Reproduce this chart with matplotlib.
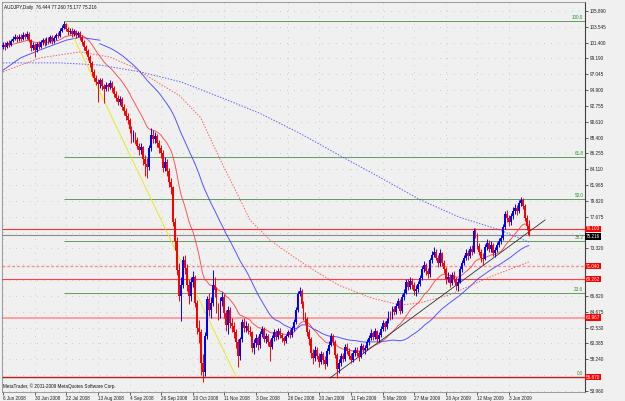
import numpy as np
import pandas as pd
import matplotlib
matplotlib.use("Agg")
import matplotlib.pyplot as plt
import matplotlib.transforms as mtransforms

plt.rcParams['font.family'] = ['Liberation Sans', 'DejaVu Sans']

header = "AUDJPY,Daily  76.444 77.260 75.177 75.216"
footer = "MetaTrader, \u00a9 2001-2009 MetaQuotes Software Corp."

# daily bars, 6 Jun 2008 .. 17 Jun 2009 (open = previous close)
first_open = 101.0
close = [
    101.2,
    101.0, 101.5, 101.3, 101.8, 102.1,
    102.3, 102.0, 102.4, 102.1, 102.6,
    102.4, 102.8, 101.9, 100.8, 101.2,
    100.6, 101.4, 101.0, 101.6, 101.9,
    101.5, 102.0, 101.7, 102.3, 101.8,
    102.2, 102.6, 102.5, 103.2, 103.6,
    104.1, 103.4, 103.0, 103.2, 102.8,
    103.1, 102.6, 102.9, 102.3, 101.6,
    101.0, 100.4, 99.6, 98.8, 97.5,
    96.8, 96.2, 95.9, 96.4, 95.6,
    95.2, 95.8, 95.5, 96.0, 95.3,
    94.6, 94.0, 93.5, 93.9, 92.8,
    92.2, 91.5, 91.0, 89.8, 88.5,
    89.0, 88.2, 87.5, 86.9, 87.3,
    85.6, 85.0, 84.6, 87.2, 89.0,
    88.4, 88.8, 87.8, 87.1, 86.5,
    84.5, 85.2, 84.0, 82.5, 81.8,
    77.0, 74.5, 70.5, 67.0, 68.5,
    71.8, 70.8, 68.5, 67.0, 68.8,
    69.5, 66.0, 62.5, 62.0, 57.8,
    56.5, 61.5, 66.5, 65.0, 66.0,
    68.5, 67.8, 65.2, 64.5, 66.2,
    66.8, 64.6, 63.0, 65.0, 63.2,
    62.8, 62.0, 60.6, 58.8, 61.0,
    63.4, 62.6, 62.9, 62.2, 62.0,
    59.8, 60.5, 61.2, 60.3, 61.8,
    62.4, 61.0, 61.5, 60.6, 60.0,
    61.2, 62.0, 61.3, 62.2, 61.6,
    61.2, 60.8, 61.5, 62.0, 61.6,
    62.5, 63.4, 65.0, 67.2, 67.6,
    65.8, 64.2, 63.8, 62.0, 61.0,
    59.2, 58.4, 59.6, 58.8, 57.9,
    59.0, 58.2, 57.6, 59.4, 60.3,
    61.5, 60.6, 58.9, 57.0, 57.8,
    58.7, 58.3, 60.0, 59.4, 58.8,
    58.2, 59.1, 59.6, 59.2, 58.6,
    60.1, 59.5, 59.9, 60.6, 61.2,
    61.9, 61.3, 62.1, 61.0, 61.6,
    62.4, 63.2, 62.7, 63.5, 64.5,
    64.0, 65.2, 64.8, 65.6, 66.2,
    64.9, 66.8, 67.4, 68.8, 68.2,
    69.0, 68.4, 67.6, 67.9, 68.6,
    69.4, 70.6, 71.2, 70.3, 69.9,
    71.8, 72.6, 72.9, 72.2, 71.4,
    72.8, 71.5, 70.6, 69.2, 69.6,
    68.7, 69.8, 69.3, 68.3, 68.9,
    70.6, 71.5, 72.2, 72.8, 72.4,
    73.4, 73.0, 75.8, 75.2, 73.8,
    73.0, 72.1, 72.0, 73.6, 74.2,
    73.4, 73.9, 72.8, 73.2, 73.9,
    74.4, 74.8, 76.4, 78.2, 77.6,
    77.0, 77.9, 78.5, 79.0, 78.6,
    79.6, 80.1, 79.2, 77.6, 76.444,
    75.216,
]
high = [
    101.6,
    101.6, 101.8, 101.9, 102.1, 102.5,
    102.7, 102.6, 102.8, 102.7, 103.0,
    102.9, 103.1, 103.0, 102.1, 101.6,
    101.5, 101.7, 101.8, 101.9, 102.2,
    102.2, 102.3, 102.4, 102.6, 102.6,
    102.5, 102.9, 103.0, 103.5, 104.0,
    104.5, 104.3, 103.7, 103.6, 103.5,
    103.4, 103.3, 103.2, 103.1, 102.6,
    101.9, 101.3, 100.7, 99.9, 99.0,
    97.9, 97.2, 96.6, 96.8, 96.7,
    95.9, 96.2, 96.1, 96.4, 96.3,
    95.6, 95.0, 94.4, 94.3, 94.2,
    93.2, 92.6, 91.9, 91.3, 90.2,
    89.6, 89.4, 88.7, 87.9, 87.8,
    87.5, 86.2, 85.8, 87.6, 89.9,
    89.6, 89.4, 89.1, 88.3, 87.6,
    86.9, 85.9, 85.6, 84.4, 83.0,
    82.0, 77.6, 75.0, 71.4, 69.6,
    72.4, 72.6, 71.3, 69.2, 69.5,
    70.4, 69.8, 66.4, 63.6, 62.4,
    59.0, 62.0, 67.0, 67.4, 66.8,
    70.5, 69.6, 68.2, 66.0, 66.8,
    67.5, 67.2, 65.0, 65.6, 65.5,
    64.0, 63.4, 62.4, 61.0, 61.4,
    63.8, 63.9, 63.5, 63.2, 62.8,
    62.2, 61.0, 61.7, 61.5, 62.2,
    62.9, 62.7, 61.9, 61.8, 61.0,
    61.6, 62.4, 62.3, 62.6, 62.5,
    61.9, 61.5, 61.8, 62.3, 62.4,
    62.9, 63.8, 65.4, 67.6, 68.2,
    67.9, 66.2, 64.8, 64.1, 62.4,
    61.3, 59.7, 60.1, 60.0, 59.2,
    59.4, 59.3, 58.7, 59.8, 60.8,
    61.9, 61.8, 60.9, 59.2, 58.3,
    59.1, 59.2, 60.4, 60.5, 59.8,
    59.2, 59.5, 60.0, 60.0, 59.5,
    60.5, 60.4, 60.3, 61.0, 61.6,
    62.4, 62.2, 62.5, 62.3, 62.0,
    62.8, 63.6, 63.5, 63.9, 64.9,
    64.9, 65.6, 65.6, 66.0, 66.7,
    66.5, 67.2, 67.9, 69.2, 69.3,
    69.5, 69.4, 68.8, 68.4, 69.0,
    69.8, 71.0, 71.7, 71.5, 70.8,
    72.2, 73.1, 73.6, 73.4, 72.6,
    73.3, 73.0, 71.8, 70.9, 70.2,
    70.0, 70.2, 70.3, 69.5, 69.4,
    71.0, 71.9, 72.6, 73.3, 73.2,
    73.8, 73.9, 76.2, 76.3, 75.5,
    74.2, 73.4, 72.8, 74.0, 74.7,
    74.6, 74.4, 74.2, 73.6, 74.3,
    74.9, 75.3, 76.8, 78.6, 78.7,
    78.0, 78.3, 79.1, 79.5, 79.4,
    80.0, 80.5, 80.3, 79.5, 78.0,
    77.26,
]
low = [
    100.7,
    100.6, 100.8, 101.0, 101.1, 101.6,
    101.9, 101.7, 101.8, 101.8, 101.9,
    102.0, 102.1, 101.6, 100.4, 100.5,
    99.6, 100.3, 100.7, 100.8, 101.3,
    101.1, 101.2, 101.4, 101.5, 101.4,
    101.5, 101.9, 102.2, 102.3, 103.0,
    103.4, 103.1, 102.6, 102.7, 102.4,
    102.5, 102.2, 102.3, 101.9, 101.2,
    100.6, 100.0, 99.2, 98.3, 97.0,
    96.3, 95.8, 93.5, 95.4, 95.1,
    93.3, 94.9, 95.0, 95.2, 94.8,
    94.1, 93.6, 93.0, 93.1, 92.4,
    91.7, 91.0, 90.4, 89.2, 87.9,
    88.0, 87.7, 87.0, 86.2, 86.4,
    84.8, 83.4, 83.0, 84.2, 86.8,
    87.9, 87.8, 87.3, 86.5, 85.8,
    83.9, 84.0, 83.4, 81.9, 80.9,
    76.5, 73.2, 69.8, 66.2, 63.5,
    68.0, 69.9, 67.6, 65.8, 66.3,
    68.2, 65.4, 61.8, 60.5, 56.2,
    55.2, 56.0, 61.0, 64.2, 64.0,
    65.6, 66.8, 64.6, 63.6, 64.0,
    65.6, 64.0, 62.1, 61.8, 62.6,
    62.0, 61.2, 59.8, 57.2, 58.2,
    60.6, 62.0, 62.0, 61.7, 61.5,
    59.3, 59.0, 60.0, 59.6, 59.9,
    61.4, 60.6, 60.5, 60.1, 58.0,
    59.7, 60.8, 60.9, 61.0, 61.2,
    60.7, 60.3, 60.5, 61.3, 61.2,
    61.4, 62.2, 63.1, 64.8, 66.9,
    65.3, 63.7, 63.1, 61.5, 60.3,
    58.5, 57.6, 58.0, 58.3, 57.3,
    57.6, 57.7, 56.9, 57.4, 59.0,
    60.1, 60.2, 58.5, 55.8, 56.4,
    57.4, 57.9, 58.0, 59.0, 58.3,
    57.8, 57.9, 58.8, 58.8, 58.1,
    58.4, 59.1, 59.0, 59.6, 60.3,
    60.9, 60.9, 61.0, 60.6, 60.7,
    61.3, 62.1, 62.2, 62.4, 63.2,
    63.6, 63.8, 64.3, 64.5, 65.3,
    64.5, 64.6, 66.4, 67.2, 67.8,
    67.9, 67.9, 67.1, 66.9, 67.5,
    68.3, 69.1, 70.2, 69.8, 69.4,
    69.6, 71.5, 72.3, 71.8, 70.9,
    71.1, 71.0, 70.1, 68.6, 68.8,
    68.2, 68.4, 68.9, 67.8, 67.6,
    68.7, 70.2, 71.2, 71.9, 71.9,
    72.1, 72.6, 72.8, 74.8, 73.4,
    72.6, 71.6, 71.2, 71.8, 73.2,
    73.0, 73.0, 72.4, 72.3, 72.9,
    73.6, 74.0, 74.6, 76.1, 77.1,
    76.5, 76.7, 77.5, 78.1, 78.0,
    78.3, 79.2, 78.8, 77.2, 76.0,
    75.177,
]

# start of the 50-bar SMA (needs bars before the visible window)
sma50_head_idx = [0, 9, 19, 32, 39, 49]
sma50_head_val = [97.8, 99.5, 100.6, 101.9, 102.3, 101.9]
# slow averages
red_dot_idx = [0, 19, 39, 54, 66, 79, 89, 100, 110, 120, 125, 135, 147, 157, 170, 186, 201, 211, 226, 245, 266]
red_dot_val = [97.6, 99.5, 100.3, 99.6, 98.2, 96.0, 94.4, 91.3, 85.5, 80.1, 77.3, 74.6, 72.3, 70.5, 68.4, 66.7, 65.7, 66.0, 67.1, 69.4, 71.6]
blue_dot_idx = [0, 29, 49, 69, 90, 110, 130, 150, 170, 191, 211, 231, 251, 266]
blue_dot_val = [98.8, 98.8, 98.5, 97.6, 96.2, 94.1, 91.9, 89.2, 86.2, 83.1, 80.1, 77.7, 76.0, 74.3]

# fibonacci retracement between the July high and the October low
fib_hi, fib_lo, fib_start = 104.52, 55.87, 31
fib_levels = [0.0, 23.6, 38.2, 50.0, 61.8, 100.0]

# horizontal levels with their price tags
level_price = [76.103, 71.040, 69.262, 63.967, 55.870]
level_color = ['#ff3030', '#ff8c8c', '#ff4040', '#ff9c9c', '#b02020']
level_style = ['-', (0, (2, 1.5)), '-', '-', '-']
level_width = [0.8, 1.0, 0.8, 1.4, 1.0]
bid = 75.216

# trend lines (bar index, price)
up_line = [(165.4, 55.74), (274.2, 77.33)]
down_line = [(32.0, 104.4), (118.0, 55.87)]

ytick_labels = ["53.960", "56.105", "58.240", "60.385", "62.530", "64.675", "66.820",
                "68.965", "71.110", "73.320", "75.530", "77.675", "79.820", "81.965",
                "84.110", "86.255", "88.400", "90.610", "92.755", "94.900", "97.045",
                "99.190", "101.400", "103.545", "105.890"]
date_labels = ["6 Jun 2008", "30 Jun 2008", "22 Jul 2008", "13 Aug 2008", "4 Sep 2008",
               "26 Sep 2008", "20 Oct 2008", "11 Nov 2008", "3 Dec 2008", "26 Dec 2008",
               "20 Jan 2009", "11 Feb 2009", "5 Mar 2009", "27 Mar 2009", "20 Apr 2009",
               "12 May 2009", "3 Jun 2009"]

c = np.array(close)
h = np.array(high)
l = np.array(low)
o = np.r_[first_open, c[:-1]]
n = len(c)
idx = np.arange(n)

bg = '#f0f0f0'
fig = plt.figure(figsize=(6.25, 4.01), dpi=100, facecolor=bg)
ax = fig.add_axes([2 / 625, 9 / 401, 583 / 625, 390 / 401], facecolor=bg)

ax.set_xlim(-0.5, 294.4)
ax.set_ylim(53.82, 107.12)

fs = 3.3
# price scale: labels hidden under a price tag are left blank, as on the terminal
ytick_pos = np.linspace(53.96, 105.89, len(ytick_labels))
tags = level_price + [bid]
shown = [lab if min(abs(p - t) for t in tags) > 0.75 else ''
         for p, lab in zip(ytick_pos, ytick_labels)]
ax.set_yticks(ytick_pos)
ax.set_yticklabels(shown)
ax.set_xticks(np.arange(len(date_labels)) * 16)
ax.set_xticklabels(date_labels, ha='left')
ax.grid(True, color='#a8a8a8', linestyle=(0, (1, 9)), linewidth=0.5)
ax.set_axisbelow(True)
ax.yaxis.tick_right()
ax.tick_params(axis='y', labelsize=fs, length=2, width=0.5, pad=1.5, colors='#202020')
ax.tick_params(axis='x', labelsize=fs, length=2, width=0.5, pad=1.0, colors='#202020')
for s in ['left', 'top', 'bottom']:
    ax.spines[s].set_color('#8c8c8c')
    ax.spines[s].set_linewidth(0.6)
ax.spines['right'].set_color('#404040')
ax.spines['right'].set_linewidth(0.8)

# fibonacci levels
for lev in fib_levels:
    p = fib_lo + (fib_hi - fib_lo) * lev / 100
    ax.hlines(p, fib_start, 294.4, color='#4c8c4c', lw=0.6, zorder=2)
    ax.text(293.6, p + 0.12, f"{lev:.1f}", fontsize=fs, color='#2e8b2e', ha='right', va='bottom', zorder=3)

# horizontal levels
for p, col, ls, lw in zip(level_price, level_color, level_style, level_width):
    ax.axhline(p, color=col, ls=ls, lw=lw, zorder=2)
ax.axhline(bid, color='#8a8a8a', lw=0.8, zorder=2)

# moving averages
ema21 = pd.Series(c).ewm(span=21, adjust=False).mean()
sma50 = pd.Series(c).rolling(50).mean()
ax.plot(idx, ema21, color='#ff3a3a', lw=0.7, alpha=0.85, zorder=4)
ax.plot(sma50_head_idx, sma50_head_val, color='#3a3aff', lw=0.7, alpha=0.85, zorder=4)
ax.plot(idx[49:], sma50[49:], color='#3a3aff', lw=0.7, alpha=0.85, zorder=4)
ax.plot(red_dot_idx, red_dot_val, color='#ff4a4a', lw=0.7, ls=(0, (1.5, 1.5)), alpha=0.85, zorder=4)
ax.plot(blue_dot_idx, blue_dot_val, color='#4a4aff', lw=0.7, ls=(0, (1.5, 1.5)), alpha=0.85, zorder=4)

# trend lines
ax.plot(*zip(*up_line), color='#303030', lw=0.6, zorder=4)
ax.plot(*zip(*down_line), color='#e8e800', lw=0.6, zorder=4)

# candles
up = c >= o
colors = np.where(up, '#0000ff', '#ff0000')
ax.vlines(idx, l, h, colors=colors, lw=0.7, zorder=5)
ax.bar(idx, np.maximum(np.abs(c - o), 0.1), bottom=np.minimum(o, c), width=0.95,
       color=colors, lw=0, zorder=5)

# price tags on the scale
trans = mtransforms.blended_transform_factory(ax.transAxes, ax.transData)
for p in level_price:
    ax.text(1.002, p, f"{p:.3f}", transform=trans, fontsize=fs, color='white', ha='left', va='center',
            bbox=dict(boxstyle='square,pad=0.2', fc='#ff0000', ec='none'), clip_on=False, zorder=10)
ax.text(1.002, bid - 0.12, f"{bid:.3f}", transform=trans, fontsize=fs, color='white', ha='left', va='center',
        bbox=dict(boxstyle='square,pad=0.2', fc='#000000', ec='none'), clip_on=False, zorder=11)

ax.text(0.004, 0.992, header, transform=ax.transAxes, fontsize=fs, color='#101010', ha='left', va='top')
ax.text(0.002, 0.008, footer, transform=ax.transAxes, fontsize=fs, color='#101010', ha='left', va='bottom')

fig.savefig('out.png', dpi=100, facecolor=bg)
